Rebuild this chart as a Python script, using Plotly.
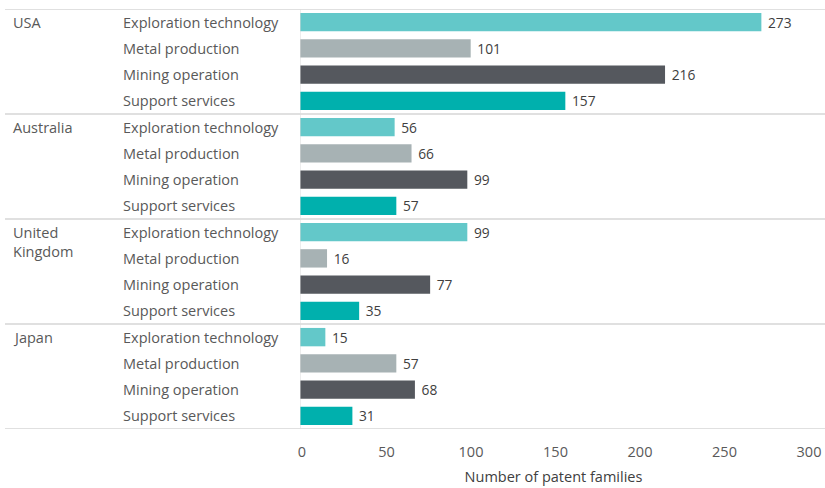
import plotly.graph_objects as go

countries = ["USA", "Australia", "United<br>Kingdom", "Japan"]
categories = ["Exploration technology", "Metal production", "Mining operation", "Support services"]
values = {
    "Exploration technology": [273, 56, 99, 15],
    "Metal production": [101, 66, 16, 57],
    "Mining operation": [216, 99, 77, 68],
    "Support services": [157, 57, 35, 31],
}
colors = {
    "Exploration technology": "#63c8c9",
    "Metal production": "#a7b2b4",
    "Mining operation": "#55585e",
    "Support services": "#00b0ad",
}
x_ticks = [0, 50, 100, 150, 200, 250, 300]

FONT = "Open Sans, Lato, sans-serif"
n_cat = len(categories)

# plot area geometry (px)
L, R = 300, 18
PW = 825 - L - R


def px(x):
    return (x - L) / PW


fig = go.Figure()
for j, cat in enumerate(categories):
    ys = [i * n_cat + j for i in range(len(countries))]
    fig.add_trace(go.Bar(
        x=values[cat],
        y=ys,
        orientation="h",
        name=cat,
        marker_color=colors[cat],
        marker_line_width=0,
        width=0.7,
        text=values[cat],
        texttemplate=" %{text}",
        textposition="outside",
        textfont=dict(size=15, color="#404040", family=FONT),
        cliponaxis=False,
        showlegend=False,
    ))

total = len(countries) * n_cat
annotations = []
shapes = []
for i, country in enumerate(countries):
    annotations.append(dict(
        x=px(11), xref="paper", y=i * n_cat - 0.42, yref="y",
        text=country, showarrow=False, xanchor="left", yanchor="top",
        align="left", font=dict(size=14.5, color="#595959", family=FONT),
    ))
    for j, cat in enumerate(categories):
        annotations.append(dict(
            x=px(121), xref="paper", y=i * n_cat + j, yref="y",
            text=cat, showarrow=False, xanchor="left", yanchor="middle",
            font=dict(size=14.5, color="#595959", family=FONT),
        ))

# group separators
for i in range(len(countries) + 1):
    yb = i * n_cat - 0.5
    shapes.append(dict(
        type="line", xref="paper", yref="y",
        x0=px(5), x1=px(825), y0=yb, y1=yb,
        line=dict(color="#d6d6d6", width=1.5),
    ))
shapes.append(dict(
    type="line", xref="x", yref="y",
    x0=0, x1=0, y0=-0.5, y1=total - 0.5,
    line=dict(color="#dcdcdc", width=1),
))

fig.update_layout(
    width=825, height=488,
    margin=dict(l=L, r=R, t=9, b=59, autoexpand=False),
    plot_bgcolor="white", paper_bgcolor="white",
    barmode="overlay",
    annotations=annotations,
    shapes=shapes,
    font=dict(family=FONT, color="#595959"),
)
fig.update_xaxes(
    range=[0, 300], tickvals=x_ticks, showgrid=False, zeroline=False,
    showline=False, ticks="", ticklabelstandoff=12, ticklabelshift=2,
    tickfont=dict(size=14.5, color="#595959"), automargin=False,
    title=dict(text="Number of patent families", font=dict(size=14.5, color="#404040"), standoff=12),
)
fig.update_yaxes(
    range=[total - 0.5, -0.5], showticklabels=False, showgrid=False,
    zeroline=False, showline=False, ticks="", automargin=False,
)

fig.write_html(
    "out.html",
    config={"displayModeBar": False},
    post_script="document.body.style.margin='0';",
)
